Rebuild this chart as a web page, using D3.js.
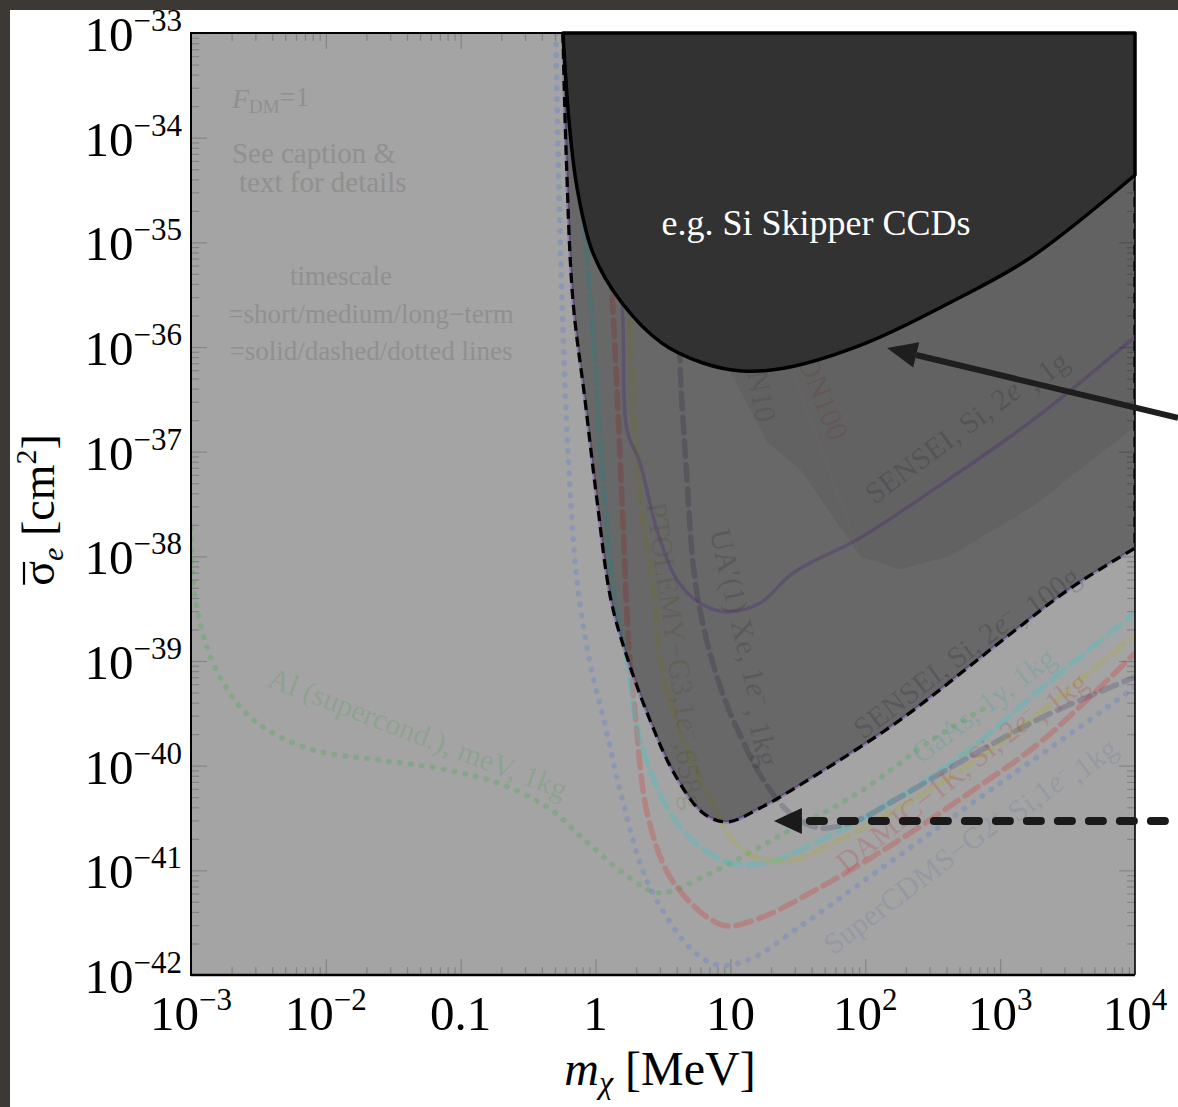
<!DOCTYPE html>
<html><head><meta charset="utf-8">
<script src="https://cdn.jsdelivr.net/npm/d3@7"></script>
<style>
body{margin:0;background:#fff;}
svg{display:block;}
text{font-family:"Liberation Serif","Times New Roman",serif;}
</style>
</head><body>
<svg id="c" width="1178" height="1107"></svg>
<script>
// ---------- tick definitions ----------
const xTicks = [1e-3, 1e-2, 0.1, 1, 10, 100, 1e3, 1e4];
const xTickBase = ["10", "10", "0.1", "1", "10", "10", "10", "10"];
const xTickExp = ["−3", "−2", "", "", "", "2", "3", "4"];
const yTicks = [1e-33, 1e-34, 1e-35, 1e-36, 1e-37, 1e-38, 1e-39, 1e-40, 1e-41, 1e-42];
const yTickExp = ["−33", "−34", "−35", "−36", "−37", "−38", "−39", "−40", "−41", "−42"];

// ---------- data: [mass MeV, cross section cm^2] ----------
const skipperCCD = [[0.573,1e-33],[0.635,1.47e-34],[0.727,3.38e-35],[0.957,7.9e-36],[1.57,2.63e-36],[3.1,1.09e-36],[6.26,7.03e-37],[12.2,5.9e-37],[25.4,6.3e-37],[101,1.09e-36],[462,2.81e-36],[1664,7.08e-36],[1e4,4.4e-35]];
const sensei100g = [[0.573,1e-33],[0.604,7.62e-35],[0.679,2.81e-36],[0.835,3.12e-37],[1.024,3.45e-38],[1.30,3.83e-39],[1.74,1.02e-39],[2.53,2.73e-40],[3.81,8.51e-41],[6.26,3.53e-41],[9.42,2.9e-41],[16.6,3.94e-41],[46.9,8.71e-41],[181,2.73e-40],[1164,1.77e-39],[3350,4.99e-39],[1e4,1.2e-38]];
const xenonRegion = [[9.93,1e-33],[9.93,5.64e-37],[18.7,1.21e-37],[32.8,6.68e-38],[91.4,9.86e-39],[181,7.41e-39],[420,9.86e-39],[1750,2.96e-38],[1e4,1.72e-37],[1e4,1e-33]];
const xenon100Edge = [[29.1,5.64e-37],[57.6,5.36e-38],[91.4,9.86e-39]];
const alSupercond = [[0.001,1.87e-38],[1.035e-3,5.94e-39],[1.166e-3,2.31e-39],[1.456e-3,9.57e-40],[2.19e-3,3.97e-40],[3.42e-3,2.34e-40],[8.03e-3,1.41e-40],[0.0252,1.13e-40],[0.0791,9.1e-41],[0.186,6.84e-41],[0.437,4.03e-41],[0.91,1.75e-41],[1.80,8.46e-42],[2.95,6.08e-42],[7.17,9.44e-42],[25.4,2.28e-41],[88.3,5.48e-41],[312,1.76e-40],[841,3.8e-40]];
const superCDMS = [[0.508,1e-33],[0.526,7.62e-35],[0.564,2.81e-36],[0.624,1.04e-37],[0.727,5.94e-39],[0.91,9.57e-40],[1.175,2.45e-40],[1.517,5.86e-41],[2.45,7.57e-42],[5.19,1.73e-42],[8.09,1.25e-42],[13.5,1.39e-42],[34.1,3.01e-42],[88.3,7.24e-42],[312,2.32e-41],[1105,7.46e-41],[3910,2.34e-40],[1e4,5.65e-40]];
const damic1K = [[1.042,1e-33],[1.194,2.54e-35],[1.37,1.46e-36],[1.57,3.45e-38],[1.77,1.27e-39],[1.927,4.24e-40],[2.45,3.24e-41],[3.81,7.57e-42],[8.65,3.01e-42],[15.2,3.36e-42],[46.9,6.93e-42],[166,1.83e-41],[588,5.48e-41],[2080,1.76e-40],[1e4,1.19e-39]];
const gaAs = [[0.703,1e-33],[0.807,2.54e-35],[0.957,1.46e-36],[1.135,5.36e-38],[1.393,3.83e-39],[1.71,1.02e-39],[2.03,2.34e-40],[3.16,4.7e-41],[5.19,1.95e-41],[9.72,1.18e-41],[18.4,1.18e-41],[46.9,1.95e-41],[166,4.7e-41],[588,1.41e-40],[2080,5.65e-40],[1e4,2.88e-39]];
const ptolemy = [[1.517,1e-33],[1.652,2.54e-35],[1.80,1.46e-36],[2.135,3.45e-38],[2.76,3.83e-39],[3.0,1.02e-39],[4.30,2.05e-40],[7.17,4.7e-41],[10.4,1.95e-41],[15.2,1.34e-41],[28.6,1.26e-41],[64.9,1.95e-41],[166,3.77e-41],[588,1.02e-40],[2080,3.4e-40],[1e4,1.77e-39]];
const sensei1g = [[1.393,1e-33],[1.492,2.54e-35],[1.60,1.46e-36],[1.71,1.61e-37],[2.135,7.8e-38],[2.85,1.79e-38],[4.02,5.94e-39],[5.94,3.58e-39],[9.42,2.94e-39],[16.6,3.58e-39],[29.1,6.93e-39],[91.4,1.5e-38],[318,4.31e-38],[1750,2.01e-37],[1e4,1.25e-36]];
const uaXe = [[4.02,1e-33],[4.16,2.54e-35],[4.23,7.03e-37],[4.68,7.8e-38],[5.28,8.64e-39],[5.94,3.07e-39],[7.30,1.02e-39],[9.12,4.24e-40],[11.8,1.96e-40],[17.0,7.8e-41],[28.6,3.38e-41],[46.9,2.54e-41],[88.3,3.03e-41],[166,4.7e-41],[588,1.21e-40],[2080,2.92e-40],[1e4,7.03e-40]];

// ---------- annotation anchors (data coordinates) ----------
const solidArrow = [[20840,2.10e-37],[145,9.79e-37]];
const dashedArrow = [[20840,2.96e-41],[21.0,2.96e-41]];

// ---------- layout ----------
const W = 1178, H = 1107;
const x = d3.scaleLog().domain([1e-3, 1e4]).range([191, 1135]);
const y = d3.scaleLog().domain([1e-42, 1e-33]).range([975, 33]);
const X0 = 191, X1 = 1135, Y0 = 33, Y1 = 975;

const svg = d3.select("#c");
svg.append("rect").attr("width", W).attr("height", H).attr("fill", "#ffffff");
svg.append("defs").append("clipPath").attr("id", "clip")
  .append("rect").attr("x", X0).attr("y", Y0).attr("width", X1 - X0).attr("height", Y1 - Y0);

const plot = svg.append("g").attr("clip-path", "url(#clip)");
plot.append("rect").attr("x", X0).attr("y", Y0).attr("width", X1 - X0).attr("height", Y1 - Y0).attr("fill", "#a4a4a4");

// ticks
const minorX = [];
xTicks.slice(0, -1).forEach(t => { for (let k = 2; k < 10; k++) minorX.push(t * k); });
const minorY = [];
yTicks.slice(1).forEach(t => { for (let k = 2; k < 10; k++) minorY.push(t * k); });
function addAxis(axisFn, scale, vals, size, tr) {
  const g = plot.append("g").attr("transform", tr)
    .call(axisFn(scale).tickValues(vals).tickSize(-size).tickFormat(""));
  g.select(".domain").remove();
  g.selectAll("line").attr("stroke", "#848484").attr("stroke-width", 1.2);
}
addAxis(d3.axisBottom, x, xTicks, 16, `translate(0,${Y1})`);
addAxis(d3.axisBottom, x, minorX, 8, `translate(0,${Y1})`);
addAxis(d3.axisTop, x, xTicks, 16, `translate(0,${Y0})`);
addAxis(d3.axisTop, x, minorX, 8, `translate(0,${Y0})`);
addAxis(d3.axisLeft, y, yTicks, 16, `translate(${X0},0)`);
addAxis(d3.axisLeft, y, minorY, 8, `translate(${X0},0)`);
addAxis(d3.axisRight, y, yTicks, 16, `translate(${X1},0)`);
addAxis(d3.axisRight, y, minorY, 8, `translate(${X1},0)`);

const lineGen = d3.line().x(d => x(d[0])).y(d => y(d[1])).curve(d3.curveCatmullRom.alpha(0.5));
const polyGen = d3.line().x(d => x(d[0])).y(d => y(d[1]));

// faint sensitivity curves
const series = [
  { data: alSupercond, color: "#2fae3a", dash: "0.5,10.5", w: 5.5, op: 0.26 },
  { data: superCDMS,   color: "#4a74d8", dash: "0.5,10.5", w: 5.5, op: 0.26 },
  { data: damic1K,     color: "#e02a2a", dash: "16,8",     w: 5.5, op: 0.26 },
  { data: gaAs,        color: "#1ed2d2", dash: "16,8",     w: 5.5, op: 0.26 },
  { data: ptolemy,     color: "#b0b020", dash: "16,8",     w: 5.5, op: 0.24 },
  { data: uaXe,        color: "#3a3a66", dash: "16,8",     w: 5.5, op: 0.24 },
  { data: sensei1g,    color: "#6a2fc0", dash: null,       w: 3.5, op: 0.28 },
  { data: sensei100g,  color: "#6a2fc0", dash: null,       w: 3.5, op: 0.3 }
];
series.forEach(s => {
  plot.append("path").attr("d", lineGen(s.data)).attr("fill", "none")
    .attr("stroke", s.color).attr("stroke-width", s.w).attr("stroke-opacity", s.op)
    .attr("stroke-linecap", "round").attr("stroke-dasharray", s.dash);
});

// rich text helper: ^{...} superscript, _{...} subscript, *...* italic
function richText(sel, str, supSize) {
  const parts = str.split(/(\^\{[^}]*\}|_\{[^}]*\}|\*[^*]*\*)/).filter(p => p.length);
  let shift = 0;
  parts.forEach(p => {
    const t = sel.append("tspan");
    let dy = 0;
    if (p.startsWith("^{")) { t.text(p.slice(2, -1)).attr("font-size", supSize); dy = -0.45; }
    else if (p.startsWith("_{")) { t.text(p.slice(2, -1)).attr("font-size", supSize); dy = 0.25; }
    else if (p.startsWith("*")) { t.text(p.slice(1, -1)).attr("font-style", "italic"); }
    else t.text(p);
    const d = dy - shift;
    if (d !== 0) t.attr("dy", d + "em");
    shift = dy;
  });
}

// curve labels
const curveLabels = [
  { t: "Al (supercond.), meV, 1kg", m: 0.0482, s: 2.05e-40, a: 21, c: "#2f9a3a", op: 0.2 },
  { t: "SENSEI, Si, 2*e*^{−}, 1g", m: 548, s: 1.80e-37, a: -36.5, c: "#2a2040", op: 0.2 },
  { t: "SENSEI, Si, 2*e*^{−}, 100g", m: 548, s: 1.27e-39, a: -37, c: "#2a2040", op: 0.2 },
  { t: "GaAs, 1y, 1kg", m: 746, s: 3.8e-40, a: -36.8, c: "#1a9a9a", op: 0.2 },
  { t: "DAMIC−1K, Si, 2*e*^{−}, 1kg", m: 504, s: 9.1e-41, a: -38.5, c: "#c02020", op: 0.2 },
  { t: "SuperCDMS−G2^{+} Si,1*e*^{−},1kg", m: 568, s: 1.87e-41, a: -37, c: "#4060a0", op: 0.18 },
  { t: "PTOLEMY−G3,1*e*^{−},658g", m: 4.08, s: 1.14e-39, a: 82, c: "#6a6a30", op: 0.2 },
  { t: "UA′(1) Xe, 1*e*^{−}, 1kg", m: 13.3, s: 1.36e-39, a: 77, c: "#303040", op: 0.2 },
  { t: "XENON10", m: 15.2, s: 8.39e-37, a: 80, c: "#404050", op: 0.18 },
  { t: "XENON100", m: 40.3, s: 6.17e-37, a: 68, c: "#b03030", op: 0.18 }
];
curveLabels.forEach(l => {
  const tx = plot.append("text")
    .attr("transform", `translate(${x(l.m)},${y(l.s)}) rotate(${l.a})`)
    .attr("text-anchor", "middle").attr("dy", "0.35em")
    .attr("font-size", 30).attr("fill", l.c).attr("fill-opacity", l.op);
  richText(tx, l.t, 19);
});

// info text top-left
const info = [
  { t: "*F*_{DM}=1", m: 2.01e-3, s: 1.92e-34, anchor: "start", fs: 28 },
  { t: "See caption &", m: 2.01e-3, s: 5.73e-35, anchor: "start", fs: 29 },
  { t: " text for details", m: 2.27e-3, s: 3.03e-35, anchor: "start", fs: 29 },
  { t: "timescale", m: 0.01294, s: 3.91e-36, anchor: "middle", fs: 27 },
  { t: "=short/medium/long−term", m: 0.02163, s: 1.69e-36, anchor: "middle", fs: 27 },
  { t: "=solid/dashed/dotted lines", m: 0.02163, s: 7.51e-37, anchor: "middle", fs: 27 }
];
info.forEach(l => {
  const tx = plot.append("text").attr("x", x(l.m)).attr("y", y(l.s))
    .attr("text-anchor", l.anchor).attr("font-size", l.fs).attr("fill", "#909090");
  richText(tx, l.t, 19);
});

// medium-gray overlay: SENSEI 100g reach
const regionPath = lineGen(sensei100g) + `L${x(1e4)},${y(1e-33)}Z`;
plot.append("path").attr("d", regionPath).attr("fill", "#000").attr("fill-opacity", 0.365);

// xenon shaded region
plot.append("path").attr("d", polyGen(xenonRegion) + "Z").attr("fill", "#000").attr("fill-opacity", 0.05)
  .attr("stroke", "#777").attr("stroke-opacity", 0.25).attr("stroke-width", 1);
plot.append("path").attr("d", polyGen(xenon100Edge)).attr("fill", "none")
  .attr("stroke", "#8a6a6a").attr("stroke-opacity", 0.25).attr("stroke-width", 1);

// dashed boundary
plot.append("path").attr("d", lineGen(sensei100g) + `L${x(1e4)},${y(1e-33)}`).attr("fill", "none")
  .attr("stroke", "#000").attr("stroke-width", 3.2).attr("stroke-dasharray", "10,6");

// skipper CCD region
svg.append("path").attr("d", lineGen(skipperCCD) + `L${x(1e4)},${y(1e-33)}Z`)
  .attr("fill", "#323232").attr("stroke", "#000").attr("stroke-width", 3.5).attr("stroke-linejoin", "round");

// frame
svg.append("line").attr("x1", X0).attr("x2", X0).attr("y1", Y0 - 1).attr("y2", Y1 + 1).attr("stroke", "#000").attr("stroke-width", 2);
svg.append("line").attr("x1", X0).attr("x2", X1).attr("y1", Y1).attr("y2", Y1).attr("stroke", "#000").attr("stroke-width", 2.5);
svg.append("line").attr("x1", X0).attr("x2", X1).attr("y1", Y0).attr("y2", Y0).attr("stroke", "#000").attr("stroke-width", 2);
svg.append("line").attr("x1", X1).attr("x2", X1).attr("y1", Y0).attr("y2", Y1).attr("stroke", "#000").attr("stroke-width", 1.6);

// tick labels
xTicks.forEach((t, i) => {
  const tx = svg.append("text").attr("x", x(t)).attr("y", 1030).attr("text-anchor", "middle")
    .attr("font-size", 49).attr("fill", "#000");
  tx.append("tspan").text(xTickBase[i]);
  if (xTickExp[i]) tx.append("tspan").attr("font-size", 31).attr("dy", -20).text(xTickExp[i]);
});
yTicks.forEach((t, i) => {
  const tx = svg.append("text").attr("x", 182).attr("y", y(t) + 18).attr("text-anchor", "end")
    .attr("font-size", 49).attr("fill", "#000");
  tx.append("tspan").text("10");
  tx.append("tspan").attr("font-size", 31).attr("dy", -20).text(yTickExp[i]);
});

// axis titles
const xt = svg.append("text").attr("x", 660).attr("y", 1085).attr("text-anchor", "middle")
  .attr("font-size", 48).attr("fill", "#000");
xt.append("tspan").attr("font-style", "italic").text("m");
xt.append("tspan").attr("font-style", "italic").attr("font-size", 32).attr("dy", 8).text("χ");
xt.append("tspan").attr("dy", -8).text(" [MeV]");

const ytg = svg.append("g").attr("transform", "translate(54,510) rotate(-90)");
const yt = ytg.append("text").attr("text-anchor", "middle").attr("font-size", 46).attr("fill", "#000");
yt.append("tspan").text("σ");
yt.append("tspan").attr("font-style", "italic").attr("font-size", 30).attr("dy", 9).text("e");
yt.append("tspan").attr("dy", -9).text(" [cm");
yt.append("tspan").attr("font-size", 30).attr("dy", -18).text("2");
yt.append("tspan").attr("dy", 18).text("]");
{
  const n = yt.node();
  const p0 = n.getStartPositionOfChar(0), p1 = n.getEndPositionOfChar(0);
  ytg.append("line").attr("x1", p0.x + 1).attr("x2", p1.x - 1).attr("y1", -30).attr("y2", -30)
    .attr("stroke", "#000").attr("stroke-width", 2.2);
}

// skipper label
svg.append("text").attr("x", x(43.1)).attr("y", y(1.17e-35)).attr("text-anchor", "middle")
  .attr("font-size", 36).attr("fill", "#ffffff").text("e.g. Si Skipper CCDs");

// arrows
function arrowHead(tail, tip, len, half, color) {
  const x1 = x(tail[0]), y1 = y(tail[1]), x2 = x(tip[0]), y2 = y(tip[1]);
  const ang = Math.atan2(y2 - y1, x2 - x1);
  const bx = x2 - len * Math.cos(ang), by = y2 - len * Math.sin(ang);
  const px = -Math.sin(ang) * half, py = Math.cos(ang) * half;
  svg.append("path").attr("d", `M${x2},${y2}L${bx + px},${by + py}L${bx - px},${by - py}Z`).attr("fill", color);
  return [bx, by];
}
{
  const b = arrowHead(solidArrow[0], solidArrow[1], 30, 13, "#1e1e1e");
  svg.append("line").attr("x1", x(solidArrow[0][0])).attr("y1", y(solidArrow[0][1]))
    .attr("x2", b[0]).attr("y2", b[1]).attr("stroke", "#1e1e1e").attr("stroke-width", 6);
}
{
  const b = arrowHead(dashedArrow[0], dashedArrow[1], 28, 13, "#1a1a1a");
  svg.append("line").attr("x1", b[0] + 8).attr("y1", b[1])
    .attr("x2", x(dashedArrow[0][0])).attr("y2", y(dashedArrow[0][1]))
    .attr("stroke", "#1a1a1a").attr("stroke-width", 8).attr("stroke-linecap", "round")
    .attr("stroke-dasharray", "14,17");
}

// dark slide border
svg.append("rect").attr("x", 0).attr("y", 0).attr("width", W).attr("height", 10).attr("fill", "#3c3935");
svg.append("rect").attr("x", 0).attr("y", 0).attr("width", 10).attr("height", H).attr("fill", "#3c3935");
</script>
</body></html>
